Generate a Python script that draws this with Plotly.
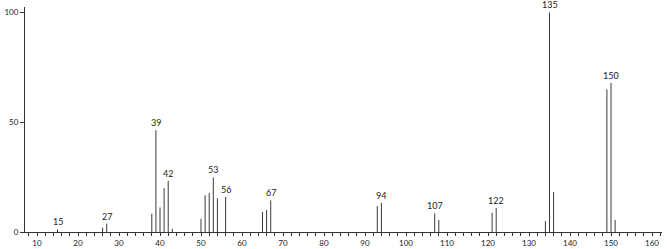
import plotly.graph_objects as go

mz = [15, 26, 27, 38, 39, 40, 41, 42, 43, 50, 51, 52, 53, 54, 56,
      65, 66, 67, 93, 94, 107, 108, 121, 122, 134, 135, 136, 149, 150, 151]
intensity = [1.2, 2.0, 3.8, 8.3, 46.4, 11.2, 20.0, 23.3, 1.4, 6.0, 16.8, 17.7, 24.9, 15.3, 16.0,
             9.1, 10.0, 14.4, 11.8, 13.3, 8.5, 5.5, 8.8, 10.9, 5.0, 100.0, 18.2, 64.9, 67.9, 5.5]
labeled = [15, 27, 39, 42, 53, 56, 67, 94, 107, 122, 135, 150]

xs, ys = [], []
for m, v in zip(mz, intensity):
    xs += [m, m, None]
    ys += [0, v, None]

fig = go.Figure()
fig.add_trace(go.Scatter(x=xs, y=ys, mode="lines",
                         line=dict(color="#3a3a3a", width=1),
                         hoverinfo="skip", showlegend=False))

font = dict(family="Lato, DejaVu Sans, sans-serif", size=9, color="#222")
tickfont = dict(family="Lato, DejaVu Sans, sans-serif", size=8, color="#222")
for m, v in zip(mz, intensity):
    if m in labeled:
        fig.add_annotation(x=m, y=v, text=str(m), showarrow=False,
                           yanchor="bottom", yshift=0, font=font)

fig.update_layout(
    width=667, height=249,
    margin=dict(l=25, r=5, t=7, b=17, autoexpand=False),
    paper_bgcolor="white", plot_bgcolor="white",
    font=font,
)
fig.update_xaxes(range=[7.07, 162.44], showgrid=False, zeroline=False,
                 automargin=False,
                 showline=True, linecolor="#333", linewidth=1,
                 tickmode="array", tickvals=list(range(10, 161, 10)),
                 ticks="outside", ticklen=3, tickcolor="#333",
                 minor=dict(dtick=2, ticks="outside", ticklen=3, tickcolor="#333"),
                 tickfont=tickfont)
fig.update_yaxes(range=[0, 102.5], showgrid=False, zeroline=False,
                 automargin=False,
                 showline=True, linecolor="#333", linewidth=1,
                 tickmode="array", tickvals=[0, 50, 100],
                 ticks="outside", ticklen=4, tickcolor="#333",
                 tickfont=tickfont)

fig.write_html("out.html")
